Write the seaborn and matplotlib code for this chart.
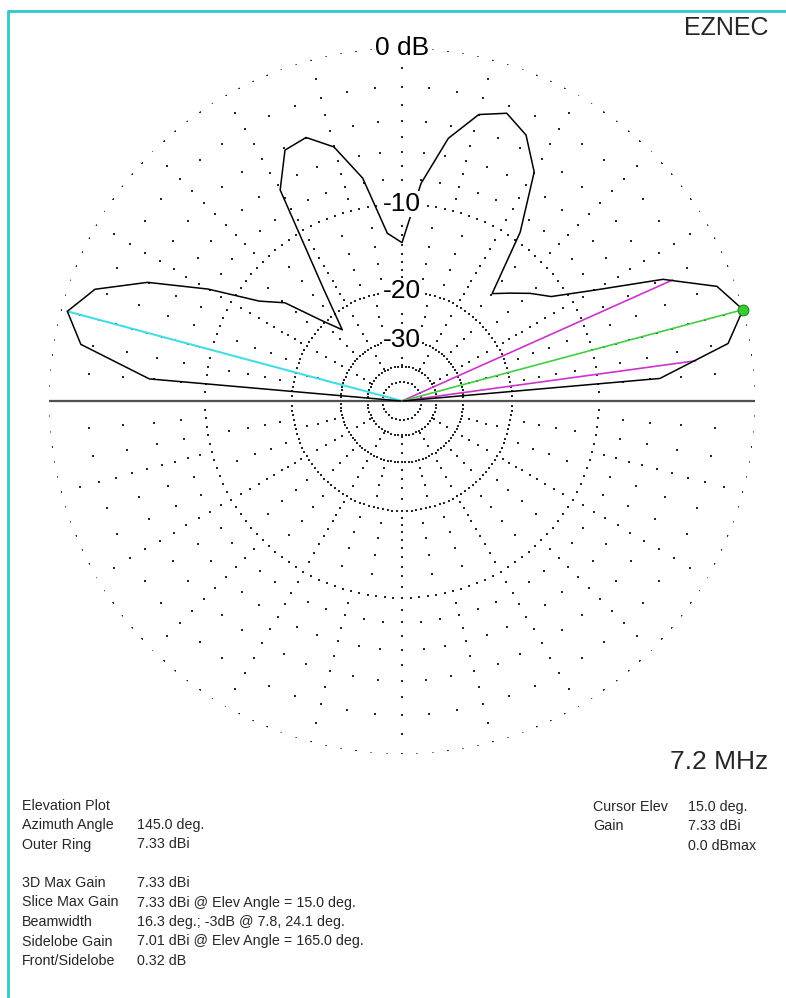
import numpy as np
import pandas as pd
import matplotlib
matplotlib.use("Agg")
import matplotlib.pyplot as plt
import seaborn as sns
from matplotlib.lines import Line2D

# ---------------- data ----------------
elev_deg = [0, 5, 10, 15, 20, 25, 30, 35, 40, 45, 50, 55, 60, 65, 70, 75, 80, 85, 90,
            95, 100, 105, 110, 115, 120, 125, 130, 135, 140, 145, 150, 155, 160, 165,
            170, 175, 180]
gain_dbi = [-99.0, 2.01, 6.23, 7.33, 6.44, 3.83, -0.67, -4.03, -5.47, -7.07, -8.52,
            -1.91, 2.37, 4.16, 4.89, 4.34, 2.52, -0.91, -6.43, -5.37, -0.30, 2.28,
            3.38, 3.16, 0.97, -8.97, -15.57, -12.07, -7.04, -4.80, -0.49, 3.40, 6.00,
            7.01, 5.97, 1.66, -99.0]
max_gain = 7.33
max_elev = 15.0
sidelobe_elev = 165.0
sidelobe_gain = 7.01
bw_elevs = [7.8, 24.1]
bw_gain = max_gain - 3.0
ring_levels = [0, -10, -20, -30, -40, -50]
ring_labels = ["0 dB", "-10", "-20", "-30"]

left_labels = ["Elevation Plot", "Azimuth Angle", "Outer Ring", "",
               "3D Max Gain", "Slice Max Gain", "Beamwidth", "Sidelobe Gain",
               "Front/Sidelobe"]
left_values = ["", "145.0 deg.", "7.33 dBi", "",
               "7.33 dBi", "7.33 dBi @ Elev Angle = 15.0 deg.",
               "16.3 deg.; -3dB @ 7.8, 24.1 deg.",
               "7.01 dBi @ Elev Angle = 165.0 deg.", "0.32 dB"]
right_labels = ["Cursor Elev", "Gain", ""]
right_values = ["15.0 deg.", "7.33 dBi", "0.0 dBmax"]
freq_label = "7.2 MHz"
title_label = "EZNEC"


def arrl_r(db_down):
    """ARRL log scale: radius factor 0.89 per 2 dB down."""
    return 0.89 ** (np.asarray(db_down, dtype=float) / 2.0)


sns.set_theme(style="white")
plt.rcParams["font.family"] = ["Liberation Sans", "DejaVu Sans"]

W, H = 786, 998
fig = plt.figure(figsize=(W / 100, H / 100), dpi=100)
fig.patch.set_facecolor("white")

cx, cy, R = 402, 401, 353
ax = fig.add_axes([(cx - R) / W, (H - cy - R) / H, 2 * R / W, 2 * R / H],
                  projection="polar")
ax.set_ylim(0, 1)
ax.axis("off")

# ---------- grid: dotted rings ----------
ring_step = {0: 2.5, -10: 2.5, -20: 2.5, -30: 3.33, -40: 6.0, -50: 12.0}
for lvl in ring_levels:
    th = np.deg2rad(np.arange(0, 360, ring_step[lvl]))
    ax.scatter(th, np.full_like(th, arrl_r(-lvl)), s=1.5, c="#262626",
               marker="s", linewidths=0, zorder=1)

# ---------- grid: sparse radial dots ----------
gt, gr = [], []
for ang in range(0, 360, 5):
    for d in range(1, 40):
        if d % 10 == 0:
            continue
        if d < 10:
            ok = (d % 2 == 0) or (ang % 15 == 0)
        elif d < 20:
            ok = (ang % 10 == 0 and d % 2 == 0) or (ang % 30 == 0 and d % 2 == 1)
        elif d < 30:
            ok = (ang % 15 == 0 and d % 2 == 0)
        else:
            ok = (ang % 30 == 0 and d % 3 == 0)
        if ok:
            gt.append(np.deg2rad(ang))
            gr.append(float(arrl_r(d)))
ax.scatter(gt, gr, s=1.5, c="#262626", marker="s", linewidths=0, zorder=1)

# ground line
ax.plot([np.pi, 0, 0], [1, 0, 1], color="#505050", lw=1.6, zorder=2)

# ---------- pattern ----------
df = pd.DataFrame({"elev": elev_deg, "gain": gain_dbi})
df["theta"] = np.deg2rad(df["elev"])
df["r"] = arrl_r(max_gain - df["gain"])
sns.lineplot(data=df, x="theta", y="r", sort=False, estimator=None,
             color="black", lw=1.1, ax=ax, zorder=4, legend=False)

# beamwidth lines (magenta)
for e in bw_elevs:
    ax.plot([0, np.deg2rad(e)], [0, float(arrl_r(max_gain - bw_gain))],
            color="#cc33cc", lw=1.2, zorder=3)
# max line (green)
ax.plot([0, np.deg2rad(max_elev)], [0, float(arrl_r(0))], color="#44cc44",
        lw=1.2, zorder=3)
# sidelobe line (cyan)
ax.plot([0, np.deg2rad(sidelobe_elev)],
        [0, float(arrl_r(max_gain - sidelobe_gain))],
        color="#44dde6", lw=1.5, zorder=3)
sns.scatterplot(x=[np.deg2rad(max_elev)], y=[float(arrl_r(0))], s=60,
                color="#33cc33", edgecolor="#1f8a1f", linewidth=0.8, ax=ax,
                zorder=6, clip_on=False, legend=False)

# ring labels
for lbl, lvl in zip(ring_labels, ring_levels):
    ax.text(np.pi / 2, float(arrl_r(-lvl)), lbl, ha="center", va="center",
            fontsize=19, color="black", zorder=5,
            bbox=dict(fc="white", ec="none", pad=0.5))

ax.set_xlabel("")
ax.set_ylabel("")

# ---------- frame (cyan border) ----------
fig.add_artist(Line2D([8 / W, 1], [1 - 11 / H, 1 - 11 / H], color="#33c6cc",
                      lw=2.0, transform=fig.transFigure))
fig.add_artist(Line2D([8 / W, 8 / W], [1 - 11 / H, 0], color="#33c6cc",
                      lw=2.0, transform=fig.transFigure))


def ftext(x, y, s, **kw):
    fig.text(x / W, 1 - y / H, s, **kw)


ftext(768, 28, title_label, ha="right", va="center", fontsize=18)
ftext(768, 762, freq_label, ha="right", va="center", fontsize=19)

fs = 10.3
ys = [806, 825.5, 844.5, 863.5, 883, 902.5, 922, 941.5, 961]
for y, lab, val in zip(ys, left_labels, left_values):
    if lab:
        ftext(22, y, lab, ha="left", va="center", fontsize=fs)
    if val:
        ftext(137, y, val, ha="left", va="center", fontsize=fs)
for y, lab, val in zip([807, 826, 846], right_labels, right_values):
    if lab:
        ftext(593, y, lab, ha="left", va="center", fontsize=fs)
    if val:
        ftext(688, y, val, ha="left", va="center", fontsize=fs)

fig.savefig("out.png", dpi=100, facecolor="white")
